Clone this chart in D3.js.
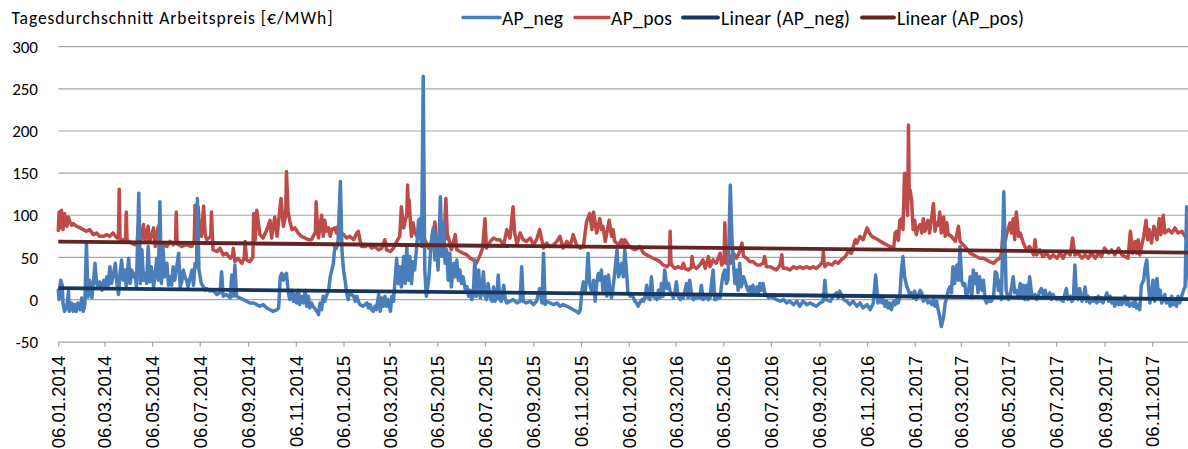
<!DOCTYPE html>
<html>
<head>
<meta charset="utf-8">
<script src="https://cdn.jsdelivr.net/npm/d3@7"></script>
<style>
  body { margin: 0; background: #fff; }
  svg { display: block; }
</style>
</head>
<body>
<svg id="chart" width="1188" height="449"></svg>
<script>
// Day offsets counted from 06.01.2014, paired with the daily average price [€/MWh]
const startDate = Date.UTC(2014, 0, 6);

const apNeg = [[0,11],[1,0],[3,23],[5,17],[6,-4],[8,-14],[11,-8],[13,10],[14,-14],[17,-4],[19,-14],[21,-6],[23,-14],[25,-4],[28,-12],[30,2],[32,-14],[34,-6],[36,67],[38,3],[40,23],[43,2],[45,21],[47,43],[49,19],[51,15],[53,21],[56,11],[58,23],[60,13],[62,27],[64,17],[66,39],[68,19],[70,27],[73,43],[75,19],[77,6],[79,31],[81,47],[83,23],[85,35],[87,15],[90,49],[92,19],[94,35],[96,27],[98,31],[100,15],[103,126],[105,19],[107,59],[109,23],[111,31],[113,19],[115,63],[117,21],[119,39],[122,15],[124,31],[126,49],[128,23],[130,116],[132,19],[134,63],[136,27],[139,43],[141,17],[143,27],[145,17],[147,39],[149,23],[151,35],[154,55],[156,15],[158,21],[160,35],[162,27],[164,23],[166,15],[169,27],[171,35],[173,17],[175,43],[177,39],[178,120],[180,35],[183,19],[186,15],[188,11],[190,13],[194,10],[198,11],[203,6],[207,8],[209,33],[211,4],[215,6],[220,2],[222,29],[224,4],[226,41],[228,4],[232,2],[237,0],[241,-2],[245,-4],[250,-4],[254,-6],[258,-8],[262,-6],[267,-10],[271,-12],[275,-14],[280,-12],[282,-10],[284,27],[286,31],[288,23],[290,29],[292,31],[294,11],[296,0],[299,11],[301,-2],[303,6],[305,-4],[307,11],[309,-6],[311,4],[314,-4],[316,11],[318,-8],[320,4],[322,-10],[324,-4],[326,-8],[331,-14],[333,-18],
[335,-4],[337,-12],[339,4],[341,-2],[343,4],[346,11],[348,27],[350,35],[352,43],[354,63],[356,61],[358,69],[361,140],[363,59],[365,35],[367,23],[369,8],[371,0],[373,10],[375,6],[378,4],[380,-2],[382,4],[384,-2],[386,-6],[390,-8],[395,-4],[397,-10],[399,-6],[401,-12],[403,-14],[405,-8],[407,-12],[410,6],[412,-14],[414,2],[416,-8],[418,4],[420,-8],[422,0],[425,-14],[427,4],[429,-2],[431,23],[433,49],[435,19],[437,39],[439,15],[442,51],[444,19],[446,63],[448,23],[450,51],[452,19],[454,45],[456,35],[459,67],[461,94],[463,96],[465,67],[467,265],[469,35],[471,4],[474,23],[476,51],[478,75],[480,85],[482,47],[484,75],[486,35],[489,122],[491,51],[493,91],[495,43],[497,59],[499,23],[501,55],[503,15],[506,43],[508,27],[510,47],[512,23],[514,35],[516,19],[518,27],[521,11],[523,15],[525,4],[527,11],[529,0],[531,4],[533,47],[535,4],[538,35],[540,2],[542,8],[544,33],[546,4],[548,0],[550,19],[553,2],[555,-2],[557,15],[559,-2],[561,2],[563,29],[565,0],[567,-2],[570,17],[572,0],[574,-4],[578,-2],[582,0],[587,-4],[591,-2],[593,39],[595,-2],[599,-4],[604,-2],[608,-6],[612,-2],[616,13],[619,-4],[621,55],[623,-6],[625,-2],[629,-4],[634,-6],[638,-4],[642,-8],[646,-6],[651,-8],[655,-10],[659,-12],[663,-14],[666,-16],[668,-12],[670,10],[672,21],[674,8],[676,23],[678,55],[680,19],[683,8],[685,23],[687,-2],[689,19],[691,31],
[693,23],[695,35],[697,11],[700,27],[702,4],[704,29],[706,11],[708,2],[710,15],[712,31],[715,59],[717,27],[719,35],[721,43],[723,27],[725,59],[727,35],[729,8],[732,4],[734,6],[736,2],[738,-2],[740,-4],[742,-8],[744,-4],[747,0],[749,-2],[751,4],[753,17],[755,2],[757,0],[759,27],[761,4],[764,2],[766,0],[768,11],[770,2],[772,19],[774,4],[776,35],[779,13],[781,19],[783,10],[785,6],[787,2],[789,8],[791,21],[793,4],[796,0],[798,4],[800,2],[802,11],[804,19],[806,2],[808,23],[811,2],[813,0],[815,4],[817,2],[821,2],[823,17],[825,0],[828,2],[830,4],[832,0],[834,2],[838,35],[840,0],[842,0],[845,4],[847,2],[849,19],[851,31],[853,35],[855,19],[857,23],[860,136],[862,75],[864,43],[866,19],[868,35],[870,11],[872,43],[874,15],[877,27],[879,21],[881,15],[883,10],[885,15],[887,6],[889,17],[891,8],[894,15],[896,8],[898,19],[900,11],[902,19],[904,8],[906,6],[909,2],[911,4],[915,2],[919,0],[924,-2],[928,0],[932,-4],[936,-2],[941,-6],[945,-2],[949,-8],[953,-2],[958,-6],[962,-4],[966,-6],[970,-8],[975,-4],[979,-2],[981,23],[983,0],[988,-2],[992,4],[996,8],[998,2],[1000,10],[1005,0],[1009,-2],[1013,-6],[1017,-2],[1022,-8],[1026,-4],[1030,-10],[1035,-6],[1039,-12],[1043,-4],[1046,29],[1049,-4],
[1052,4],[1054,-4],[1056,0],[1058,-8],[1060,-2],[1062,-10],[1064,-4],[1066,-12],[1069,-2],[1071,-6],[1073,0],[1075,-4],[1077,4],[1079,35],[1081,51],[1083,27],[1086,15],[1088,11],[1090,4],[1092,8],[1094,2],[1096,10],[1098,0],[1101,6],[1103,11],[1105,8],[1107,-2],[1109,0],[1111,2],[1113,-4],[1115,-2],[1118,-6],[1120,0],[1122,-8],[1124,-2],[1126,-12],[1128,-20],[1130,-32],[1133,-20],[1135,-4],[1137,2],[1139,11],[1141,15],[1143,8],[1145,39],[1147,19],[1150,41],[1152,23],[1154,63],[1156,23],[1158,17],[1160,19],[1162,4],[1165,11],[1167,27],[1169,2],[1171,35],[1173,19],[1175,31],[1177,8],[1179,27],[1182,11],[1184,23],[1186,0],[1188,-4],[1190,2],[1192,-2],[1194,-2],[1197,4],[1199,33],[1201,31],[1203,11],[1205,23],[1207,0],[1210,128],[1213,11],[1216,0],[1218,4],[1220,15],[1222,27],[1224,8],[1226,11],[1229,2],[1231,19],[1233,6],[1235,17],[1237,0],[1239,17],[1241,0],[1243,27],[1246,4],[1248,2],[1250,6],[1252,0],[1254,4],[1256,10],[1258,13],[1261,4],[1263,11],[1265,2],[1267,4],[1269,8],[1271,0],[1273,6],[1275,2],[1278,0],[1280,2],[1282,0],[1286,-2],[1288,6],[1290,13],[1292,0],[1295,4],[1297,-2],[1299,0],[1301,41],[1303,4],[1305,0],[1307,13],[1310,-2],[1312,2],[1314,15],[1316,-2],[1318,4],[1320,-4],[1322,0],[1325,-2],[1327,2],[1329,-4],[1331,4],[1333,-2],[1335,2],[1337,-4],[1342,8],[1344,-2],[1346,4],[1348,-4],[1350,-2],[1352,-8],[1354,-2],[1357,-6],[1359,0],[1361,-6],[1363,-2],[1365,4],[1367,-6],[1369,-2],[1371,-8],[1374,-4],[1376,-8],[1378,-2],[1380,-10],[1382,-6],[1384,-12],[1386,17],[1389,23],[1391,39],[1393,47],[1395,19],[1397,-4],[1399,8],[1401,23],[1403,-2],[1406,25],[1408,4],[1410,11],[1412,-4],[1414,0],[1416,6],[1418,-4],[1420,0],[1423,-8],[1425,4],[1427,-6],[1429,-2],[1431,-8],[1433,4],[1435,-4],[1440,11],[1442,15],[1444,110],[1446,40],[1448,8],[1452,4],[1455,2]];

const apPos = [[0,82],[1,104],[2,85],[4,106],[6,83],[8,102],[11,87],[13,98],[15,92],[17,88],[19,90],[23,87],[28,85],[32,83],[36,81],[40,83],[45,77],[49,79],[53,75],[58,75],[62,77],[66,75],[70,79],[75,73],[77,75],[78,131],[79,72],[80,69],[83,71],[86,72],[87,104],[88,70],[90,69],[94,67],[98,65],[101,68],[102,85],[103,70],[105,69],[109,89],[110,72],[111,71],[115,87],[116,70],[117,69],[122,85],[124,63],[128,87],[130,65],[134,65],[139,63],[143,69],[147,65],[150,68],[151,104],[152,66],[154,65],[158,63],[164,65],[171,63],[174,70],[175,112],[177,75],[179,110],[181,78],[183,75],[186,111],[188,76],[190,71],[195,75],[196,104],[198,59],[203,57],[207,61],[211,53],[215,55],[220,49],[223,52],[224,61],[226,45],[230,49],[235,43],[238,50],[239,69],[241,47],[245,45],[249,50],[250,102],[252,71],[254,106],[258,77],[262,73],[267,83],[271,94],[273,73],[277,98],[280,75],[285,120],[288,87],[291,100],[292,152],[294,105],[296,94],[299,83],[303,85],[307,79],[311,75],[316,73],[320,71],[324,71],[329,80],[330,116],[332,78],[333,73],
[335,89],[337,100],[339,75],[341,94],[343,81],[346,85],[348,75],[350,83],[354,85],[356,79],[358,87],[361,80],[365,77],[369,73],[373,75],[378,71],[382,79],[384,81],[386,71],[388,63],[393,63],[397,65],[401,61],[405,63],[410,59],[414,61],[418,71],[420,59],[425,57],[429,61],[433,69],[437,75],[439,110],[442,85],[444,94],[446,100],[447,136],[448,110],[449,118],[451,85],[452,75],[454,91],[456,80],[459,75],[463,83],[465,63],[469,71],[474,61],[478,69],[482,92],[484,65],[489,61],[493,59],[496,120],[498,72],[499,75],[503,59],[508,77],[510,59],[514,57],[518,55],[523,53],[527,49],[531,47],[535,43],[540,53],[543,61],[546,96],[548,61],[553,69],[557,73],[561,71],[565,71],[570,65],[574,83],[578,73],[582,110],[584,78],[585,75],[587,65],[591,79],[595,71],[599,69],[604,73],[608,65],[612,71],[616,83],[621,61],[625,67],[629,63],[634,65],[638,69],[642,75],[646,61],[651,69],[655,63],[659,77],[663,65],[668,61],[672,63],[676,92],[680,102],[683,83],[685,104],[689,79],
[693,96],[695,83],[697,87],[700,69],[702,79],[705,94],[708,75],[710,83],[712,69],[717,65],[721,71],[723,63],[725,71],[729,65],[734,61],[738,59],[742,61],[744,63],[749,55],[753,53],[757,51],[761,49],[766,47],[770,45],[774,41],[779,39],[782,42],[783,81],[784,45],[785,41],[789,37],[793,39],[798,37],[800,43],[802,37],[806,35],[810,38],[811,51],[813,39],[817,37],[821,41],[825,47],[828,37],[832,51],[834,39],[838,47],[842,43],[847,55],[849,41],[852,45],[853,91],[854,50],[855,43],[857,59],[860,43],[864,55],[868,49],[872,57],[875,67],[877,51],[881,49],[885,45],[889,45],[894,41],[898,41],[902,43],[904,51],[906,39],[911,39],[915,37],[919,35],[923,40],[924,43],[926,53],[927,40],[928,37],[932,37],[936,35],[941,39],[945,37],[949,39],[953,37],[958,39],[962,37],[966,39],[970,37],[975,41],[978,45],[979,57],[980,44],[981,39],[985,43],[990,41],[994,45],[998,43],[1002,47],[1007,51],[1011,57],[1015,55],[1020,71],[1022,67],[1026,75],[1030,71],[1035,85],[1038,79],[1041,75],[1045,73],[1049,71],
[1052,69],[1056,67],[1060,65],[1064,63],[1069,61],[1071,79],[1073,81],[1075,70],[1077,94],[1079,96],[1081,83],[1083,150],[1084,110],[1086,114],[1087,100],[1088,207],[1089,120],[1090,130],[1092,118],[1094,83],[1096,94],[1098,77],[1100,85],[1103,89],[1105,79],[1107,96],[1109,81],[1113,94],[1115,79],[1120,114],[1122,81],[1124,91],[1126,88],[1128,104],[1130,79],[1133,98],[1135,75],[1137,91],[1139,77],[1143,75],[1148,69],[1152,87],[1154,69],[1158,65],[1162,61],[1167,55],[1171,53],[1175,51],[1179,49],[1184,49],[1188,47],[1192,45],[1197,43],[1201,47],[1205,49],[1207,55],[1209,81],[1212,70],[1214,79],[1218,91],[1220,79],[1222,96],[1224,71],[1226,104],[1229,75],[1231,79],[1235,67],[1239,59],[1243,63],[1248,53],[1250,71],[1252,53],[1256,59],[1260,51],[1265,55],[1269,49],[1273,53],[1278,49],[1282,55],[1286,49],[1290,57],[1295,53],[1298,73],[1301,53],[1305,55],[1310,49],[1314,53],[1318,49],[1322,55],[1327,49],[1331,55],[1335,51],[1339,61],[1344,55],[1348,59],[1352,53],[1357,61],[1361,53],[1365,51],[1369,49],[1372,81],[1375,55],[1378,69],[1380,55],[1382,71],[1384,53],[1389,75],[1392,94],[1394,71],[1396,83],[1399,67],[1402,87],[1406,71],[1409,96],[1411,77],[1414,100],[1416,79],[1421,83],[1425,79],[1429,85],[1433,79],[1438,81],[1442,75],[1446,68],[1450,72],[1455,70]];

// Linear trend lines: value at first and last day
const trendDays = [0, 1455];
const trendNeg = [13.5, 0.4];
const trendPos = [68.8, 55.6];

const yTicks = [-50, 0, 50, 100, 150, 200, 250, 300];
const yTitle = "Tagesdurchschnitt Arbeitspreis [€/MWh]";
const legendNames = ["AP_neg", "AP_pos", "Linear (AP_neg)", "Linear (AP_pos)"];
const colors = ["#4a7ebb", "#be4b48", "#17375e", "#632523"];

const svg = d3.select("#chart");
const W = 1188, H = 449;
const toDate = d => new Date(startDate + d * 86400000);

const x = d3.scaleUtc()
  .domain([toDate(0), toDate(1455)])
  .range([58.3, 58.3 + 1455 * 0.7814]);
const y = d3.scaleLinear().domain([-50, 300]).range([341.7, 46.7]);

const uiFont = "Carlito, Lato, 'Open Sans', sans-serif";

// horizontal gridlines
svg.append("g").selectAll("line")
  .data(yTicks.filter(v => v > -50))
  .join("line")
  .attr("x1", 58.3).attr("x2", W)
  .attr("y1", d => y(d)).attr("y2", d => y(d))
  .attr("stroke", "#a6a6a6").attr("stroke-width", 1.2);

// y tick labels
svg.append("g").selectAll("text")
  .data(yTicks)
  .join("text")
  .attr("x", 38).attr("y", d => y(d))
  .attr("dy", "0.36em")
  .attr("text-anchor", "end")
  .attr("font-family", uiFont)
  .attr("font-size", 17)
  .attr("fill", "#000")
  .text(d => d);

// x axis on the -50 line, ticks every two months on the 6th
const tickDates = d3.range(24).map(i => new Date(Date.UTC(2014, i * 2, 6)));
const fmt = d3.utcFormat("%d.%m.%Y");
const xAxis = d3.axisBottom(x).tickValues(tickDates).tickFormat(fmt)
  .tickSizeInner(5).tickSizeOuter(0);
const gx = svg.append("g").attr("transform", `translate(0,${y(-50)})`).call(xAxis);
gx.select(".domain").attr("stroke", "#a6a6a6").attr("stroke-width", 1.2);
gx.selectAll(".tick line").attr("stroke", "#a6a6a6").attr("stroke-width", 1.2);
gx.selectAll(".tick text")
  .attr("font-family", "'Liberation Sans', Arial, sans-serif")
  .attr("font-size", 18.5)
  .attr("fill", "#000")
  .attr("text-anchor", "end")
  .attr("transform", "rotate(-90)")
  .attr("x", -14).attr("y", 0).attr("dy", "0.35em");

// series lines (AP_pos underneath, AP_neg above it)
const line = d3.line().x(d => x(toDate(d[0]))).y(d => y(d[1]));
const plot = svg.append("g");
plot.append("path").datum(apPos)
  .attr("d", line).attr("fill", "none")
  .attr("stroke", colors[1]).attr("stroke-width", 3.5)
  .attr("stroke-linejoin", "round").attr("stroke-linecap", "round");
plot.append("path").datum(apNeg)
  .attr("d", line).attr("fill", "none")
  .attr("stroke", colors[0]).attr("stroke-width", 3.5)
  .attr("stroke-linejoin", "round").attr("stroke-linecap", "round");

// trend lines
[trendNeg, trendPos].forEach((t, i) => {
  plot.append("path")
    .datum(trendDays.map((d, k) => [d, t[k]]))
    .attr("d", line).attr("fill", "none")
    .attr("stroke", colors[2 + i]).attr("stroke-width", 3.8);
});

// title
svg.append("text")
  .attr("x", 11.5).attr("y", 24)
  .attr("font-family", uiFont).attr("font-size", 17.5).attr("fill", "#000")
  .attr("textLength", 321).attr("lengthAdjust", "spacing")
  .text(yTitle);

// legend
const legendLineX = [[463, 500], [575, 609], [683, 718], [862, 894]];
const legendTextX = [502, 611, 721, 897];
const legendTextW = [61, 61, 129, 127];
const lg = svg.append("g");
legendNames.forEach((name, i) => {
  lg.append("line")
    .attr("x1", legendLineX[i][0]).attr("x2", legendLineX[i][1])
    .attr("y1", 17.5).attr("y2", 17.5)
    .attr("stroke", colors[i]).attr("stroke-width", i < 2 ? 3.5 : 3.8)
    .attr("stroke-linecap", "round");
  lg.append("text")
    .attr("x", legendTextX[i]).attr("y", 24.5)
    .attr("font-family", uiFont).attr("font-size", 19.5).attr("fill", "#000")
    .attr("textLength", legendTextW[i]).attr("lengthAdjust", "spacing")
    .text(name);
});
</script>
</body>
</html>
